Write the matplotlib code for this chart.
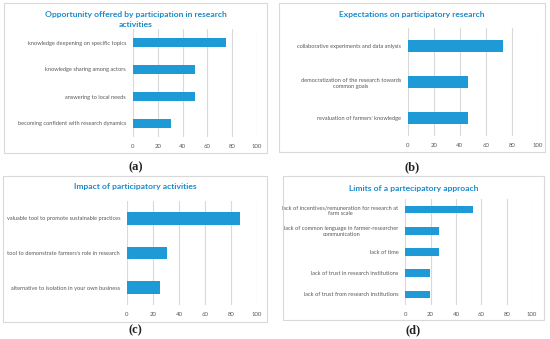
import matplotlib

matplotlib.use("Agg")
import matplotlib.pyplot as plt
from matplotlib.patches import Rectangle

W, H = 550, 339

# panel (a)
a_title = "Opportunity offered by participation in research\nactivities"
a_labels = [
    "knowledge deepening on specific topics",
    "knowledge sharing among actors",
    "answering to local needs",
    "becoming confident with research dynamics",
]
a_values = [75, 50, 50, 31]

# panel (b)
b_title = "Expectations on participatory research"
b_labels = [
    "collaborative experiments and data anlysis",
    "democratization of the research towards\ncommon goals",
    "revaluation of farmers' knowledge",
]
b_values = [73.5, 46.5, 46.5]

# panel (c)
c_title = "Impact of participatory activities"
c_labels = [
    "valuable tool to promote sustainable practices",
    "tool to demonstrate farmers's role in research",
    "alternative to isolation in your own business",
]
c_values = [87, 31, 25]

# panel (d)
d_title = "Limits of a partecipatory approach"
d_labels = [
    "lack of incentives/remuneration for research at\nfarm scale",
    "lack of common lenguage in farmer-researcher\ncommunication",
    "lack of time",
    "lack of trust in research institutions",
    "lack of trust from research institutions",
]
d_values = [53.5, 26.5, 26.5, 19.5, 19.5]

xticks = [0, 20, 40, 60, 80, 100]
captions = ["(a)", "(b)", "(c)", "(d)"]

BAR = "#1E9BD7"
TITLE = "#1A8ACB"
GREY = "#595959"
GRID = "#D9D9D9"

plt.rcParams["font.family"] = ["Lato", "DejaVu Sans"]

fig = plt.figure(figsize=(W / 100, H / 100), dpi=100)


def px_rect(x0, y0, x1, y1):
    # pixel box (top-origin) -> figure fraction [l, b, w, h]
    return [x0 / W, 1 - y1 / H, (x1 - x0) / W, (y1 - y0) / H]


def panel(box, ax_box, title, title_y, labels, values, caption, cap_y):
    bx0, by0, bx1, by1 = box
    fig.patches.append(Rectangle((bx0 / W, 1 - by1 / H), (bx1 - bx0) / W, (by1 - by0) / H,
                                 transform=fig.transFigure, fill=False,
                                 edgecolor=GRID, linewidth=0.8))
    ax = fig.add_axes(px_rect(*ax_box))
    pos = list(range(len(labels)))
    ax.barh(pos, values, height=0.36, color=BAR, zorder=3)
    ax.set_ylim(len(labels) - 0.5, -0.5)
    ax.set_xlim(0, 100)
    ax.set_xticks(xticks)
    ax.set_yticks(pos)
    ax.set_yticklabels(labels, fontsize=4.1, color=GREY, multialignment="center",
                       linespacing=1.3)
    ax.tick_params(axis="x", labelsize=4.3, labelcolor=GREY, length=0, pad=5)
    ax.tick_params(axis="y", length=0, pad=5)
    ax.grid(axis="x", color=GRID, linewidth=0.8, zorder=0)
    for s in ax.spines.values():
        s.set_visible(False)
    ax.patch.set_alpha(0)
    cx = (bx0 + bx1) / 2
    fig.text(cx / W, 1 - title_y / H, title, ha="center", va="center",
             fontsize=6.1, fontweight="bold", color=TITLE, linespacing=1.45)
    fig.text(cx / W, 1 - cap_y / H, caption, ha="center", va="center",
             fontsize=9, fontweight="bold", family="Liberation Serif", color="#222222")
    return ax


panel((4, 3, 267, 153), (133, 29, 257, 137), a_title, 19.5, a_labels, a_values, captions[0], 167)
panel((279, 3, 545, 152), (407.7, 28, 538, 136), b_title, 14, b_labels, b_values, captions[1], 167)
panel((3, 176, 267, 322), (127, 201, 257, 305), c_title, 187, c_labels, c_values, captions[2], 330)
panel((283, 176, 544, 320), (405.3, 199, 532, 305), d_title, 188, d_labels, d_values, captions[3], 330)

fig.savefig("out.png", dpi=100)
